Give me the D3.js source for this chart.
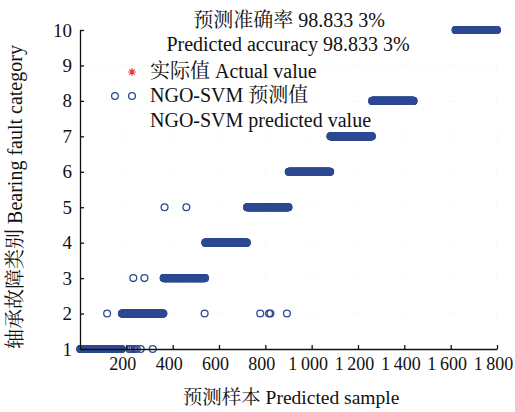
<!DOCTYPE html>
<html>
<head>
<meta charset="utf-8">
<script src="https://cdn.jsdelivr.net/npm/d3@7/dist/d3.min.js"></script>
<style>
  html, body { margin: 0; padding: 0; background: #fff; }
  svg { display: block; }
  text { font-family: "Liberation Serif", "Times New Roman", "Noto Serif CJK SC", "Noto Sans CJK SC", serif; fill: #111; }
</style>
</head>
<body>
<svg id="chart" width="515" height="412"></svg>
<script>
// Fault classes present in the test set and the sample index range of each class
const classIds    = [1, 2, 3, 4, 5, 6, 7, 8, 10];
const firstSample = [1, 181, 361, 541, 721, 901, 1081, 1261, 1621];
const lastSample  = [180, 360, 540, 720, 900, 1080, 1260, 1440, 1800];

// Samples the NGO-SVM model got wrong, with the class it predicted
const missSamples   = [117, 212, 220, 228, 236, 245, 262, 314, 230, 278, 365, 459, 538, 778, 816, 822, 893];
const missPredicted = [2,   1,   1,   1,   1,   1,   1,   1,   3,   3,   5,   5,   2,   2,   2,   2,   2];

// Axis ticks
const xTickValues = [200, 400, 600, 800, 1000, 1200, 1400, 1600, 1800];
const xTickLabels = ["200", "400", "600", "800", "1\u2009000", "1\u2009200", "1\u2009400", "1\u2009600", "1\u2009800"];
const yTickValues = [1, 2, 3, 4, 5, 6, 7, 8, 9, 10];

const titleLines  = ["预测准确率 98.833 3%", "Predicted accuracy 98.833 3%"];
const legendLabels = ["实际值 Actual value", "NGO-SVM 预测值", "NGO-SVM predicted value"];
const xTitle = "预测样本 Predicted sample";
const yTitle = "轴承故障类别 Bearing fault category";

const BLUE = "#2e4a93";
const RED = "#e8322c";

const svg = d3.select("#chart");
const x = d3.scaleLinear().domain([0, 1800]).range([80, 497]);
const y = d3.scaleLinear().domain([1, 10]).range([349, 30]);

// Expand class ranges into per-sample records
const missMap = new Map(missSamples.map((s, i) => [s, missPredicted[i]]));
const samples = [];
classIds.forEach((c, i) => {
  d3.range(firstSample[i], lastSample[i] + 1).forEach(s => {
    samples.push({ sample: s, actual: c, predicted: missMap.has(s) ? missMap.get(s) : c });
  });
});

// Faint dotted grid
const grid = svg.append("g").attr("stroke", "#efefef").attr("stroke-width", 0.8).attr("stroke-dasharray", "1,3");
grid.selectAll("line.gx").data(xTickValues).join("line")
  .attr("x1", d => x(d)).attr("x2", d => x(d)).attr("y1", y(1)).attr("y2", y(10));
grid.selectAll("line.gy").data(yTickValues.slice(1)).join("line")
  .attr("x1", x(0)).attr("x2", x(1800)).attr("y1", d => y(d)).attr("y2", d => y(d));

// Eight-armed star marker (plus overlaid with a cross)
const starType = {
  draw(context, size) {
    const r = Math.sqrt(size) / 2, q = r * Math.SQRT1_2;
    context.moveTo(-r, 0); context.lineTo(r, 0);
    context.moveTo(0, -r); context.lineTo(0, r);
    context.moveTo(-q, -q); context.lineTo(q, q);
    context.moveTo(-q, q); context.lineTo(q, -q);
  }
};
const star = d3.symbol().type(starType).size(56);

// Actual classes (red stars), drawn underneath
svg.append("g").selectAll("path").data(samples).join("path")
  .attr("d", star)
  .attr("transform", d => `translate(${x(d.sample)},${y(d.actual)})`)
  .attr("fill", "none").attr("stroke", RED).attr("stroke-width", 1.1);

// Predicted classes (open blue circles)
svg.append("g").selectAll("circle").data(samples).join("circle")
  .attr("cx", d => x(d.sample)).attr("cy", d => y(d.predicted)).attr("r", 3.4)
  .attr("fill", "none").attr("stroke", BLUE).attr("stroke-width", 1.3);

// Axes with inward ticks
const xAxis = d3.axisBottom(x).tickValues(xTickValues)
  .tickFormat((d, i) => xTickLabels[i]).tickSizeInner(-4).tickSizeOuter(0).tickPadding(8);
const yAxis = d3.axisLeft(y).tickValues(yTickValues)
  .tickFormat(d3.format("d")).tickSizeInner(-4).tickSizeOuter(0).tickPadding(8);

const gx = svg.append("g").attr("transform", `translate(0,${y(1)})`).call(xAxis);
const gy = svg.append("g").attr("transform", `translate(${x(0)},0)`).call(yAxis);
[gx, gy].forEach(g => {
  g.select(".domain").attr("stroke", "#111").attr("stroke-width", 1.3);
  g.selectAll(".tick line").attr("stroke", "#111").attr("stroke-width", 1.3);
  g.selectAll(".tick text").attr("font-family", null).attr("fill", "#111");
});
gx.selectAll(".tick text").style("font-size", "18px").attr("dx", -4);
gy.selectAll(".tick text").style("font-size", "19px");

// Titles
svg.append("text").attr("x", 289).attr("y", 26.5).attr("text-anchor", "middle")
  .style("font-size", "20px").text(titleLines[0]);
svg.append("text").attr("x", 288).attr("y", 51).attr("text-anchor", "middle")
  .style("font-size", "20px").text(titleLines[1]);

// Legend
svg.append("path").attr("d", star).attr("transform", "translate(132,72)")
  .attr("fill", "none").attr("stroke", RED).attr("stroke-width", 1.2);
svg.append("g").selectAll("circle").data([115, 132]).join("circle")
  .attr("cx", d => d).attr("cy", 96).attr("r", 3.4)
  .attr("fill", "none").attr("stroke", BLUE).attr("stroke-width", 1.3);
svg.append("text").attr("x", 150).attr("y", 77.5).style("font-size", "20px").text(legendLabels[0]);
svg.append("text").attr("x", 150).attr("y", 101.5).style("font-size", "20px").text(legendLabels[1]);
svg.append("text").attr("x", 150).attr("y", 126.5).style("font-size", "20px").text(legendLabels[2]);

// Axis titles
svg.append("text").attr("x", 291).attr("y", 404).attr("text-anchor", "middle")
  .style("font-size", "19.5px").text(xTitle);
svg.append("text").attr("transform", "translate(22,197) rotate(-90)").attr("text-anchor", "middle")
  .style("font-size", "20px").text(yTitle);
</script>
</body>
</html>
